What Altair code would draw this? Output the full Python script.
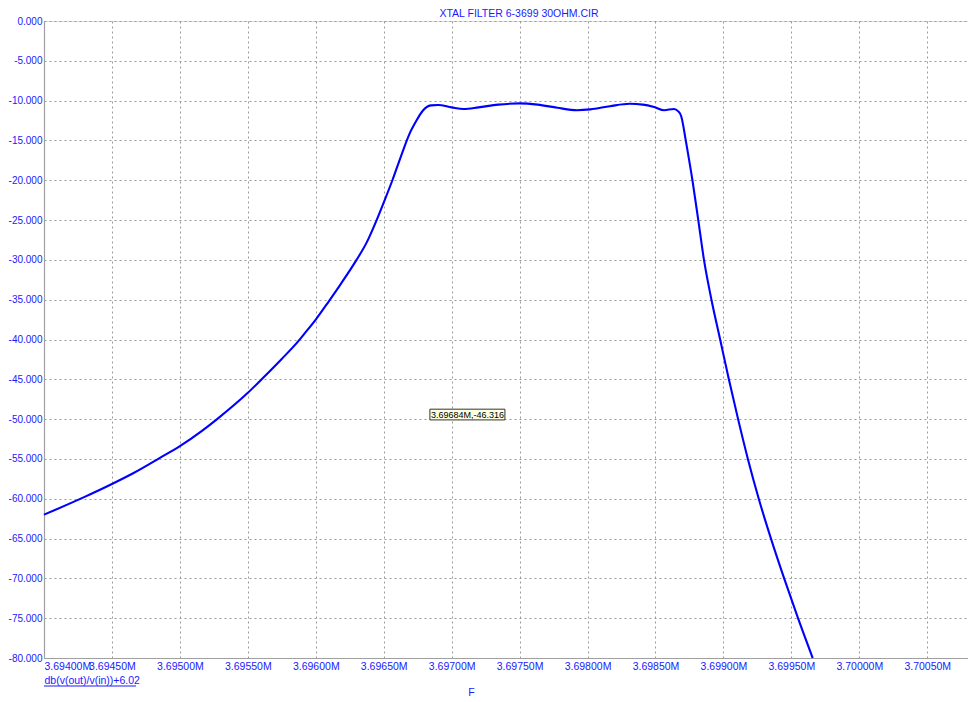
import altair as alt
import pandas as pd

# ---- data ----
FREQ_MHZ = [
    3.694000, 3.694295, 3.694500, 3.694656, 3.694850, 3.695000, 3.695165, 3.695274,
    3.695500, 3.695613, 3.695746, 3.695867, 3.695915, 3.696000, 3.696096, 3.696181,
    3.696300, 3.696375, 3.696448, 3.696500, 3.696564, 3.696629,
    3.696689, 3.696738, 3.696786, 3.696847, 3.696900, 3.697000,
    3.697088, 3.697197, 3.697342, 3.697500, 3.697633, 3.697778, 3.697923, 3.698020,
    3.698165, 3.698310, 3.698407, 3.698490, 3.698564, 3.698636, 3.698668, 3.698690,
    3.698705, 3.698721, 3.698772, 3.698815, 3.698857, 3.698912, 3.698976,
    3.699040, 3.699108, 3.699180, 3.699260, 3.699350, 3.699447, 3.699549, 3.699657,
]
GAIN_DB = [
    -62.0, -59.8, -58.15, -56.8, -54.9, -53.4, -51.45, -50.0,
    -46.7, -44.8, -42.5, -40.3, -39.3, -37.5, -35.2, -33.1,
    -30.0, -27.8, -25.0, -22.8, -20.0, -16.9,
    -14.2, -12.6, -11.3, -10.6, -10.55, -10.85,
    -11.05, -10.85, -10.5, -10.35, -10.5, -10.9, -11.2, -11.1,
    -10.7, -10.4, -10.5, -10.8, -11.2, -11.05, -11.35, -12.0,
    -13.2, -14.8, -20.0, -25.0, -30.0, -35.0, -40.0,
    -45.0, -50.0, -55.0, -60.0, -65.0, -70.0, -75.0, -80.0,
]
X_TICKS = [3.6940, 3.6945, 3.6950, 3.6955, 3.6960, 3.6965, 3.6970,
           3.6975, 3.6980, 3.6985, 3.6990, 3.6995, 3.7000, 3.7005]
Y_TICKS = [0, -5, -10, -15, -20, -25, -30, -35, -40, -45, -50, -55, -60, -65, -70, -75, -80]
X_DOMAIN = [3.6940, 3.7008]
Y_DOMAIN = [-80, 0]

TITLE = "XTAL FILTER 6-3699 30OHM.CIR"
Y_TITLE = "db(v(out)/v(in))+6.02"
X_TITLE = "F"
ANNOT_TEXT = ["3.69684M,-46.316"]
ANNOT_F = [3.69684]
ANNOT_F2 = [3.697392]
ANNOT_DB = [-48.75]
ANNOT_DB2 = [-50.1]

# ---- layout / style ----
W, H = 924, 637
BLUE = "#0000ff"
TXT_BLUE = "#1a1aff"
FONT = "Liberation Sans, Arial, sans-serif"
GRID = "#9a9a9a"

df = pd.DataFrame({"f": FREQ_MHZ, "db": GAIN_DB})
ann = pd.DataFrame({"label": ANNOT_TEXT, "f": ANNOT_F, "f2": ANNOT_F2,
                    "db": ANNOT_DB, "db2": ANNOT_DB2})
ann["fm"] = (ann["f"] + ann["f2"]) / 2
ann["dbm"] = (ann["db"] + ann["db2"]) / 2

xscale = alt.Scale(domain=X_DOMAIN, nice=False, zero=False)
yscale = alt.Scale(domain=Y_DOMAIN, nice=False, zero=False)

xaxis = alt.Axis(
    values=X_TICKS,
    labelExpr="format(datum.value, '.5f') + 'M'",
    labelFlush=True, labelOverlap=False, labelBound=False,
    labelFont=FONT, labelFontSize=10.5, labelColor=TXT_BLUE, labelPadding=3,
    tickSize=0, domainColor="#a0a0a0", domainWidth=1.2,
    grid=True, gridColor=GRID, gridDash=[2, 3], gridWidth=1,
    title=X_TITLE, titleFont=FONT, titleFontSize=10.5, titleColor=TXT_BLUE,
    titleFontWeight="normal", titleX=427, titleY=34, titleAlign="center",
    titleBaseline="middle",
)
yaxis = alt.Axis(
    values=Y_TICKS,
    labelExpr="replace(format(datum.value, '.3f'), '\u2212', '-')",
    labelFont=FONT, labelFontSize=10, labelColor=TXT_BLUE, labelPadding=2,
    labelOverlap=False, labelBound=False, labelFlush=False,
    tickSize=0, domainColor="#a0a0a0", domainWidth=1.2,
    grid=True, gridColor=GRID, gridDash=[2, 3], gridWidth=1,
    title=Y_TITLE, titleFont=FONT, titleFontSize=10.5, titleColor=TXT_BLUE,
    titleFontWeight="normal", titleAngle=0, titleX=0, titleY=H + 22,
    titleAlign="left", titleBaseline="middle",
)

line = alt.Chart(df).mark_line(color=BLUE, strokeWidth=2.1, interpolate="monotone").encode(
    x=alt.X("f:Q", scale=xscale, axis=xaxis),
    y=alt.Y("db:Q", scale=yscale, axis=yaxis),
)

underline = alt.Chart(df.head(1)).mark_rule(color=TXT_BLUE, strokeWidth=1).encode(
    x=alt.value(0), x2=alt.value(92), y=alt.value(H + 28),
)

box = alt.Chart(ann).mark_rect(fill="#ffffe1", stroke="#333333", strokeWidth=1).encode(
    x=alt.X("f:Q", scale=xscale, axis=xaxis), x2="f2:Q",
    y=alt.Y("db:Q", scale=yscale, axis=yaxis), y2="db2:Q",
)
box_text = alt.Chart(ann).mark_text(font=FONT, fontSize=9, color="#000000",
                                    baseline="middle", align="center").encode(
    x=alt.X("fm:Q", scale=xscale, axis=xaxis),
    y=alt.Y("dbm:Q", scale=yscale, axis=yaxis),
    text="label:N",
)

chart = alt.layer(line, underline, box, box_text).properties(
    width=W, height=H,
    padding={"left": 0, "top": 0, "right": 0, "bottom": 0},
    title=alt.TitleParams(TITLE, font=FONT, fontSize=10.5, color=TXT_BLUE,
                          fontWeight="normal", anchor="middle", dx=13, offset=-3),
).configure_view(stroke="#a0a0a0", strokeWidth=1.2).configure(background="white")

chart.save("out.html", embed_options={"renderer": "svg", "actions": False})
